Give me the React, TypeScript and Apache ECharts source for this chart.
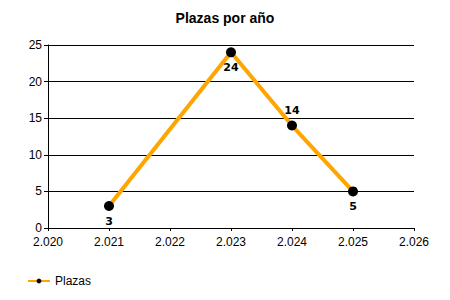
import React, { useEffect, useRef } from "react";
import * as echarts from "echarts";

const years = [2021, 2023, 2024, 2025];
const plazas = [3, 24, 14, 5];
const labelPos = ["bottom", "bottom", "top", "bottom"];

export default function App() {
  const ref = useRef<HTMLDivElement>(null);
  useEffect(() => {
    if (!ref.current) return;
    const chart = echarts.init(ref.current, null, { renderer: "svg" });
    chart.setOption({
      animation: false,
      title: {
        text: "Plazas por año",
        left: "center",
        top: 6,
        textStyle: { fontFamily: "Liberation Sans", fontSize: 14, fontWeight: "bold", color: "#000" },
      },
      grid: { left: 48, right: 36, top: 45, bottom: 72 },
      legend: {
        left: 22,
        top: 270,
        itemWidth: 22,
        itemHeight: 6,
        textStyle: { fontFamily: "Liberation Sans", fontSize: 12, color: "#000" },
        data: ["Plazas"],
      },
      xAxis: {
        type: "value",
        min: 2020,
        max: 2026,
        interval: 1,
        axisLine: { lineStyle: { color: "#000", width: 1 } },
        axisTick: { show: true, length: 3, lineStyle: { color: "#000" } },
        axisLabel: {
          margin: 8,
          fontFamily: "Liberation Sans",
          fontSize: 12,
          color: "#000",
          formatter: (v: number) => {
            const s = String(v);
            return s.slice(0, 1) + "." + s.slice(1);
          },
        },
        splitLine: { show: false },
      },
      yAxis: {
        type: "value",
        min: 0,
        max: 25,
        interval: 5,
        axisLine: { show: true, lineStyle: { color: "#000", width: 1 } },
        axisTick: { show: true, length: 4, lineStyle: { color: "#000" } },
        axisLabel: { margin: 6, fontFamily: "Liberation Sans", fontSize: 12, color: "#000" },
        splitLine: { show: true, lineStyle: { color: "#000", width: 1 } },
      },
      series: [
        {
          name: "Plazas",
          type: "line",
          data: years.map((y, i) => ({
            value: [y, plazas[i]],
            label: { position: labelPos[i] },
          })),
          lineStyle: { color: "#FFA500", width: 4 },
          itemStyle: { color: "#000", borderWidth: 0 },
          symbol: "circle",
          symbolSize: 10,
          label: {
            show: true,
            fontFamily: "DejaVu Sans",
            fontWeight: "bold",
            fontSize: 11,
            color: "#000",
            distance: 5,
            formatter: (p: any) => String(p.value[1]),
          },
          emphasis: { disabled: true },
        },
      ],
    });
    return () => chart.dispose();
  }, []);
  return <div ref={ref} style={{ width: 450, height: 300, margin: -8 }} />;
}
